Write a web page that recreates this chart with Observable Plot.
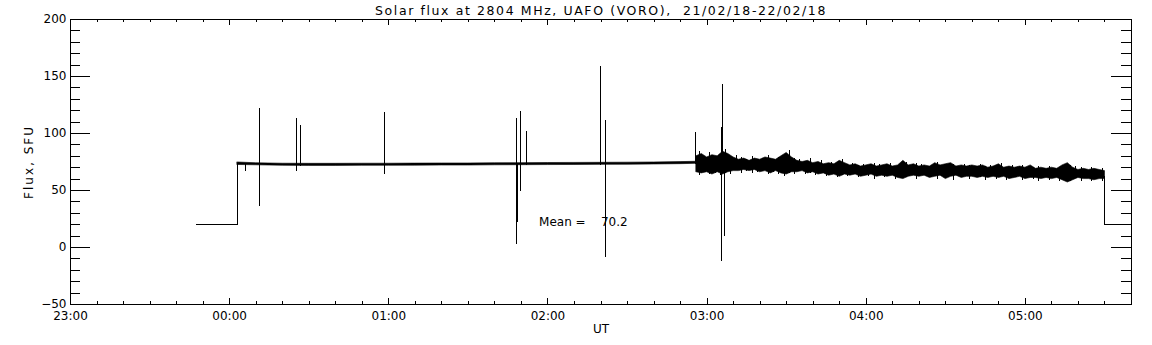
<!DOCTYPE html>
<html><head><meta charset="utf-8">
<script src="https://cdn.jsdelivr.net/npm/d3@7"></script>
<script src="https://cdn.jsdelivr.net/npm/@observablehq/plot@0.6"></script>
<style>
html,body{margin:0;padding:0;background:#fff;}
#chart svg{display:block;}
</style></head><body><div id="chart"></div>
<script>
// ---- text ----
const title = "Solar flux at 2804 MHz, UAFO (VORO),  21/02/18-22/02/18";
const xLabel = "UT";
const yLabel = "Flux, SFU";
const meanLabel = "Mean =    70.2";
const meanLabelAt = {time: "01:56:40", flux: 22.4};

// ---- axes ----
const xDomain = ["23:00", "05:40"];
const xTickLabels = ["23:00","00:00","01:00","02:00","03:00","04:00","05:00"];
const yDomain = [-50, 200];
const yTickValues = [-50, 0, 50, 100, 150, 200];

// ---- calibration (off-sun) lead-in and tail ----
const leadTimes = ["23:47:30","00:03:00","00:03:00"];
const leadFlux  = [20, 20, 73.6];
const tailTimes = ["05:30:00","05:30:00","05:40:00"];
const tailFlux  = [63, 20, 20];

// ---- quiet part of the record (envelope) ----
const quietTimes = ["00:03","00:10","00:20","00:30","00:40","00:50","01:00","01:10","01:20","01:30","01:40","01:50","02:00","02:10","02:20","02:30","02:40","02:50","02:56"];
const quietHi = [74.6,73.9,73.5,73.4,73.4,73.5,73.5,73.6,73.7,73.7,73.9,74.0,74.1,74.2,74.3,74.4,74.6,74.9,75.2];
const quietLo = [72.4,72.1,71.7,71.6,71.6,71.7,71.7,71.8,71.9,71.9,72.1,72.2,72.3,72.4,72.5,72.6,72.8,73.1,73.4];

// ---- noisy part of the record (envelope, even minutes) ----
const noisyTimes = ["02:56","02:58","03:00","03:02","03:04","03:06","03:08","03:10","03:12","03:14","03:16","03:18","03:20","03:22","03:24","03:26","03:28","03:30","03:32","03:34","03:36","03:38","03:40","03:42","03:44","03:46","03:48","03:50","03:52","03:54","03:56","03:58","04:00","04:02","04:04","04:06","04:08","04:10","04:12","04:14","04:16","04:18","04:20","04:22","04:24","04:26","04:28","04:30","04:32","04:34","04:36","04:38","04:40","04:42","04:44","04:46","04:48","04:50","04:52","04:54","04:56","04:58","05:00","05:02","05:04","05:06","05:08","05:10","05:12","05:14","05:16","05:18","05:20","05:22","05:24","05:26","05:28","05:30"];
const noisyHi = [80,82,79,81,80,84,82,79,77,78, 76,78,77,79,78,77,80,83,79,76, 75,76,74,75,73,74,73,76,74,72, 73,71,72,73,71,72,73,71,72,76, 72,73,71,72,71,74,72,73,74,71, 72,71,72,71,72,70,71,73,70,71, 70,71,70,72,69,70,69,70,69,72, 74,70,68,69,68,69,68,67];
const noisyLo = [66,65,66,64,66,64,66,67,67,68, 67,68,66,67,65,67,65,64,66,66, 67,65,66,64,65,63,64,62,64,63, 64,62,63,64,62,63,62,63,61,60, 62,63,62,63,61,62,63,60,62,63, 61,62,62,61,62,61,62,61,62,60, 61,62,60,61,61,60,61,60,61,59, 57,59,61,60,60,59,60,60];

// ---- noisy part: single-sample excursions (odd minutes) ----
const burstTimes = ["02:57","02:59","03:01","03:03","03:05","03:07","03:09","03:11","03:13","03:15","03:17","03:19","03:21","03:23","03:25","03:27","03:29","03:31","03:33","03:35","03:37","03:39","03:41","03:43","03:45","03:47","03:49","03:51","03:53","03:55","03:57","03:59","04:01","04:03","04:05","04:07","04:09","04:11","04:13","04:15","04:17","04:19","04:21","04:23","04:25","04:27","04:29","04:31","04:33","04:35","04:37","04:39","04:41","04:43","04:45","04:47","04:49","04:51","04:53","04:55","04:57","04:59","05:01","05:03","05:05","05:07","05:09","05:11","05:13","05:15","05:17","05:19","05:21","05:23","05:25","05:27","05:29"];
const burstHi = [84,80,83,79,82,86,80,81,79,77, 80,76,78,81,76,79,81,85,78,77, 74,78,73,76,72,75,74,77,73,74, 72,73,71,74,73,71,74,70,74,75, 71,74,73,70,72,75,71,72,73,70, 73,72,70,73,71,72,70,74,69,72, 69,72,71,70,71,68,71,68,70,73, 72,71,70,67,70,67,69];
const burstLo = [63,66,64,65,63,65,64,68,65,67, 65,66,67,64,66,64,62,65,64,68, 64,65,63,66,62,65,61,63,62,65, 61,64,62,60,64,61,63,60,62,61, 63,60,64,62,63,60,61,62,59,64, 62,60,63,61,59,63,60,62,59,61, 62,59,61,60,58,62,59,61,58,60, 58,61,58,61,58,61,58];

// ---- interference spikes ----
const spikeTimes = ["00:05:50","00:11:05","00:25:05","00:26:35","00:58:20","01:48:00","01:48:20","01:49:35","01:51:50","02:19:40","02:21:35","02:55:35","03:05:30","03:05:35","03:05:45","03:06:30"];
const spikeLo = [66.5, 36, 67, 71, 64, 3, 22, 49, 72, 72, -9, 73, -12, 22, 70, 10];
const spikeHi = [73, 122, 113, 107, 118, 113, 74, 119, 102, 159, 111, 101, 105, 105, 143, 75];

// ---- helpers ----
function hrs(t) {
  const [h, m, s = 0] = t.split(":").map(Number);
  let v = h + m / 60 + s / 3600;
  if (v < 12) v += 24;   // after midnight
  return v;
}
const zip2 = (ts, ys) => ts.map((t, i) => ({x: hrs(t), y: ys[i]}));
const band = (ts, hi, lo) => ts.map((t, i) => ({x: hrs(t), hi: hi[i], lo: lo[i]}));

const lead = zip2(leadTimes, leadFlux);
const tail = zip2(tailTimes, tailFlux);
const quiet = band(quietTimes, quietHi, quietLo);
const noisy = band(noisyTimes, noisyHi, noisyLo);
const bursts = band(burstTimes, burstHi, burstLo);
const spikes = band(spikeTimes, spikeHi, spikeLo);

const W = 1152, H = 345, mL = 70, mR = 21, mT = 19, mB = 41;
const iW = W - mL - mR, iH = H - mT - mB;

const xMajor = xTickLabels.map(hrs);
const xLabelOf = new Map(xTickLabels.map(l => [hrs(l), l]));
const x0 = hrs(xDomain[0]), x1 = hrs(xDomain[1]);
const xMinor = d3.range(Math.round(x0 * 6), Math.round(x1 * 6) + 1).map(k => k / 6);
const yMinor = d3.range(yDomain[0], yDomain[1] + 1, 10);

const font = "DejaVu Sans";
const crisp = {stroke: "#000", shapeRendering: "crispEdges"};

const chart = Plot.plot({
  width: W, height: H,
  marginLeft: mL, marginRight: mR, marginTop: mT, marginBottom: mB,
  style: {fontFamily: font, fontSize: "12px", color: "#000", background: "#fff"},
  x: {type: "linear", domain: [x0, x1]},
  y: {domain: yDomain},
  marks: [
    // data
    Plot.line(lead, {x: "x", y: "y", strokeWidth: 1, ...crisp}),
    Plot.line(tail, {x: "x", y: "y", strokeWidth: 1, ...crisp}),
    Plot.areaY(quiet, {x: "x", y1: "lo", y2: "hi", fill: "#000", stroke: "#000", strokeWidth: 0.6}),
    Plot.areaY(noisy, {x: "x", y1: "lo", y2: "hi", fill: "#000", stroke: "#000", strokeWidth: 0.6}),
    Plot.ruleX(bursts, {x: "x", y1: "lo", y2: "hi", strokeWidth: 1, ...crisp}),
    Plot.ruleX(spikes, {x: "x", y1: "lo", y2: "hi", strokeWidth: 1, ...crisp}),
    // ticks (inward, on all four sides)
    Plot.tickY(yTickValues, {y: d => d, insetRight: iW - 20, ...crisp}),
    Plot.tickY(yTickValues, {y: d => d, insetLeft: iW - 20, ...crisp}),
    Plot.tickY(yMinor, {y: d => d, insetRight: iW - 10, ...crisp}),
    Plot.tickY(yMinor, {y: d => d, insetLeft: iW - 10, ...crisp}),
    Plot.tickX(xMajor, {x: d => d, insetTop: iH - 6, ...crisp}),
    Plot.tickX(xMajor, {x: d => d, insetBottom: iH - 6, ...crisp}),
    Plot.tickX(xMinor, {x: d => d, insetTop: iH - 3, ...crisp}),
    Plot.tickX(xMinor, {x: d => d, insetBottom: iH - 3, ...crisp}),
    Plot.frame(crisp),
    // tick labels
    Plot.axisY({ticks: yTickValues, tickSize: 0, tickPadding: 4, label: null,
      tickFormat: d => d < 0 ? "\u2212" + Math.abs(d) : String(d), fontSize: 12}),
    Plot.axisX({ticks: xMajor, tickSize: 0, tickPadding: 7, label: null,
      tickFormat: d => xLabelOf.get(d) ?? "", fontSize: 12}),
    // annotations
    Plot.text([meanLabel], {x: hrs(meanLabelAt.time), y: meanLabelAt.flux, text: d => d,
      textAnchor: "start", lineAnchor: "middle", fontSize: 12, fill: "#000"}),
    Plot.text([title], {frameAnchor: "top", dy: -9, text: d => d, lineAnchor: "middle", fontSize: 12.5, fill: "#000"}),
    Plot.text([xLabel], {frameAnchor: "bottom", dy: 25, text: d => d, lineAnchor: "middle", fontSize: 12, fill: "#000"}),
    Plot.text([yLabel], {frameAnchor: "left", dx: -41, rotate: -90, text: d => d,
      textAnchor: "middle", lineAnchor: "middle", fontSize: 12, fill: "#000"})
  ]
});

chart.querySelectorAll("text").forEach(t => {
  if (t.textContent === title) t.setAttribute("letter-spacing", "1.6");
  if (t.textContent === yLabel) t.setAttribute("letter-spacing", "2");
});
document.getElementById("chart").appendChild(chart);
</script>
</body></html>
